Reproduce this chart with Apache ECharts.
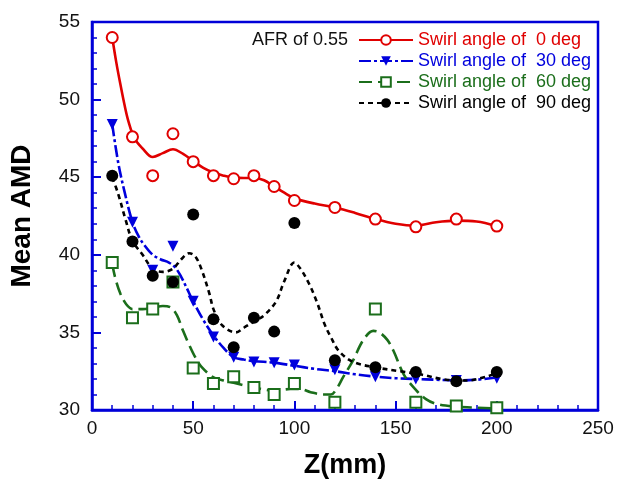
<!DOCTYPE html>
<html>
<head>
<meta charset="utf-8">
<script src="https://cdn.jsdelivr.net/npm/echarts@6/dist/echarts.min.js"></script>
<style>
html,body{margin:0;padding:0;background:#fff;}
#chart{width:618px;height:484px;}
</style>
</head>
<body>
<div id="chart"></div>
<script>
// ---- data ----
const zPositions = [10, 20, 30, 40, 50, 60, 70, 80, 90, 100, 120, 140, 160, 180, 200];
const swirl0  = [54.0, 47.6, 45.1, 47.8, 46.0, 45.1, 44.9, 45.1, 44.4, 43.5, 43.05, 42.3, 41.8, 42.3, 41.85];
const swirl30 = [48.4, 42.1, 39.0, 40.55, 37.0, 34.7, 33.4, 33.1, 33.05, 32.9, 32.6, 32.15, 32.0, 31.9, 32.05];
const swirl60 = [39.5, 35.95, 36.5, 38.25, 32.7, 31.7, 32.15, 31.45, 31.0, 31.7, 30.5, 36.5, 30.5, 30.25, 30.15];
const swirl90 = [45.1, 40.85, 38.65, 38.25, 42.6, 35.85, 34.05, 35.95, 35.05, 42.05, 33.2, 32.75, 32.45, 31.85, 32.45];

// fitted (smoothed) curves as drawn in the reference
const curve0 = [[10,54.0],[12,52.4],[14,51.0],[16,49.7],[18,48.6],[21,47.5],[25,46.85],[30,46.3],[35,46.55],[40,46.8],[45,46.5],[50,46.05],[55,45.6],[60,45.3],[65,45.1],[70,44.97],[75,44.95],[80,44.95],[85,44.8],[90,44.4],[95,44.0],[100,43.65],[110,43.3],[120,43.05],[130,42.7],[140,42.3],[150,42.0],[160,41.88],[170,42.1],[180,42.2],[190,42.15],[200,41.85]];
const curve30 = [[10,48.4],[13,45.9],[16,44.1],[20,42.1],[23,41.2],[26,40.6],[30,40.0],[34,39.7],[38,39.5],[41,39.2],[44,38.6],[47,37.8],[50,37.0],[55,35.8],[60,34.8],[65,34.0],[70,33.4],[75,33.25],[80,33.15],[90,33.05],[100,32.85],[110,32.65],[120,32.5],[130,32.3],[140,32.15],[150,32.05],[160,32.0],[170,31.95],[180,31.9],[190,31.95],[200,32.1]];
const curve60 = [[10,39.4],[11.5,38.5],[14,37.5],[17,36.8],[20,36.5],[25,36.5],[30,36.6],[35,36.7],[39,36.6],[42,36.1],[45,35.1],[48,34.2],[51,33.4],[54,32.8],[60,32.1],[65,31.9],[70,31.75],[80,31.45],[90,31.25],[98,31.35],[103,31.35],[108,31.15],[114,31.0],[118,31.0],[121,31.4],[124,32.1],[129,33.2],[134,34.5],[139,35.1],[142,35.0],[146,34.5],[149,33.8],[154,32.3],[160,31.3],[165,30.7],[170,30.4],[180,30.22],[190,30.15],[200,30.1]];
const curve90 = [[10,45.0],[13,43.9],[16.5,42.3],[20,40.9],[25,40.0],[30,39.1],[35,38.9],[40,39.1],[44,39.7],[48,40.1],[51,39.9],[54,39.1],[58,37.5],[60,36.5],[64,35.5],[71,35.0],[75,35.3],[80,35.7],[85,36.1],[91,37.0],[95,38.3],[100,39.5],[103,39.1],[107,38.2],[111,37.0],[115,35.5],[118,34.7],[122,33.8],[129,33.1],[140,32.75],[152,32.5],[162,32.3],[175,31.95],[185,31.9],[195,32.15],[200,32.4]];

const seriesNames = ['Swirl angle of  0 deg', 'Swirl angle of  30 deg', 'Swirl angle of  60 deg', 'Swirl angle of  90 deg'];
const xTicks = {min: 0, max: 250, interval: 50};
const yTicks = {min: 30, max: 55, interval: 5};

// ---- chart ----
const FONT = 'Arial, "Liberation Sans", sans-serif';
const AXIS_BLUE = '#0000d8';
const colors = ['#e00000', '#0000dd', '#1b6e1b', '#000000'];
const dashes = ['solid', [12, 3, 3, 3], [13, 6], [5, 4]];
const symbols = ['emptyCircle', 'triangle', 'emptyRect', 'circle'];
const symbolRot = [0, 180, 0, 0];
const symbolSizes = [11, 11, 11, 12];
const values = [swirl0, swirl30, swirl60, swirl90];
const curves = [curve0, curve30, curve60, curve90];

const zip = (xs, ys) => xs.map((x, i) => [x, ys[i]]);

const series = [];
curves.forEach((c, i) => {
  series.push({
    name: seriesNames[i],
    type: 'line',
    data: c,
    smooth: 0.35,
    symbol: symbols[i],
    symbolRotate: symbolRot[i],
    showSymbol: false,
    itemStyle: {color: colors[i], borderColor: colors[i]},
    lineStyle: {color: colors[i], width: 2.6, type: dashes[i]},
    silent: true,
    z: 2
  });
});
values.forEach((v, i) => {
  series.push({
    name: seriesNames[i],
    type: 'scatter',
    data: zip(zPositions, v),
    symbol: symbols[i],
    symbolRotate: symbolRot[i],
    symbolSize: symbolSizes[i],
    itemStyle: {color: colors[i], borderColor: colors[i], opacity: 1, borderWidth: symbols[i].startsWith('empty') ? 1.1 : 0},
    z: 3
  });
});

const chart = echarts.init(document.getElementById('chart'), null, {renderer: 'canvas'});
chart.setOption({
  animation: false,
  backgroundColor: '#fff',
  textStyle: {fontFamily: FONT},
  grid: {left: 92, right: 20, top: 22, bottom: 71, show: true, borderColor: AXIS_BLUE, borderWidth: 2.5},
  legend: {
    orient: 'vertical',
    left: 358,
    top: 31,
    padding: 0,
    itemWidth: 54,
    itemHeight: 12,
    itemGap: 3,
    selectedMode: false,
    data: seriesNames.map((n, i) => ({name: n, textStyle: {color: colors[i]}})),
    textStyle: {fontFamily: FONT, fontSize: 18, lineHeight: 18}
  },
  graphic: [{
    type: 'text',
    right: 618 - 348,
    top: 31,
    style: {text: 'AFR of 0.55', font: '18px ' + FONT, fill: '#111', textAlign: 'right'}
  }],
  xAxis: {
    type: 'value',
    min: xTicks.min, max: xTicks.max, interval: xTicks.interval,
    name: 'Z(mm)',
    nameLocation: 'middle',
    nameGap: 42,
    nameTextStyle: {fontFamily: FONT, fontSize: 27, fontWeight: 'bold', color: '#000'},
    axisLine: {show: true, onZero: false, lineStyle: {color: AXIS_BLUE, width: 2.5}},
    axisTick: {show: true, inside: true, length: 9, lineStyle: {color: AXIS_BLUE, width: 2}},
    minorTick: {show: true, splitNumber: 5, length: 5, lineStyle: {color: AXIS_BLUE, width: 1.5}},
    axisLabel: {fontFamily: FONT, fontSize: 19, color: '#111', margin: 9},
    splitLine: {show: false}
  },
  yAxis: {
    type: 'value',
    min: yTicks.min, max: yTicks.max, interval: yTicks.interval,
    name: 'Mean AMD',
    nameLocation: 'middle',
    nameGap: 56,
    nameTextStyle: {fontFamily: FONT, fontSize: 28, fontWeight: 'bold', color: '#000'},
    axisLine: {show: true, onZero: false, lineStyle: {color: AXIS_BLUE, width: 2.5}},
    axisTick: {show: true, inside: true, length: 9, lineStyle: {color: AXIS_BLUE, width: 2}},
    minorTick: {show: true, splitNumber: 5, length: 5, lineStyle: {color: AXIS_BLUE, width: 1.5}},
    axisLabel: {fontFamily: FONT, fontSize: 19, color: '#111', margin: 12},
    splitLine: {show: false}
  },
  series: series
});
</script>
</body>
</html>
